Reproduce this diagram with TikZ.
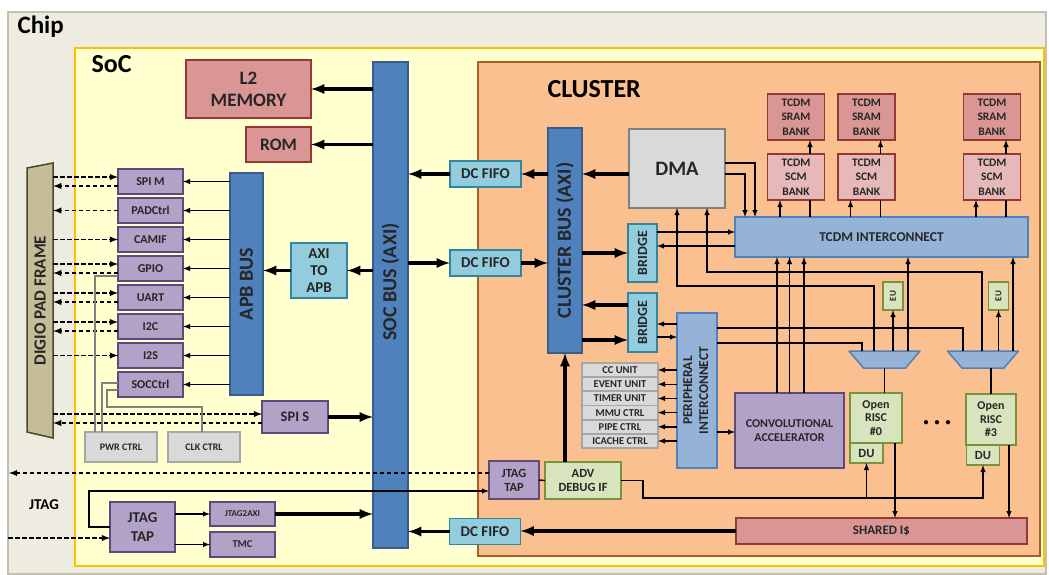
\documentclass[tikz,border=0pt]{standalone}
\usepackage{fontspec}
\setmainfont{Carlito}
\usetikzlibrary{arrows}

\definecolor{chipfill}{HTML}{EEECE1}
\definecolor{chipline}{HTML}{C4C0B0}
\definecolor{socfill}{HTML}{FFFFD0}
\definecolor{socline}{HTML}{FFC000}
\definecolor{clusterfill}{HTML}{FAC090}
\definecolor{clusterline}{HTML}{A5602A}
\definecolor{busfill}{HTML}{4F81BD}
\definecolor{busline}{HTML}{385D8A}
\definecolor{fifofill}{HTML}{93CDDD}
\definecolor{fifoline}{HTML}{31859C}
\definecolor{perfill}{HTML}{B3A2C7}
\definecolor{perline}{HTML}{5F497A}
\definecolor{memfill}{HTML}{D99694}
\definecolor{memline}{HTML}{953735}
\definecolor{scmfill}{HTML}{E6B9B8}
\definecolor{greyfill}{HTML}{D9D9D9}
\definecolor{greyline}{HTML}{A6A6A6}
\definecolor{corefill}{HTML}{D7E4BD}
\definecolor{coreline}{HTML}{77933C}
\definecolor{icfill}{HTML}{95B3D7}
\definecolor{icline}{HTML}{4F81BD}
\definecolor{padfill}{HTML}{C4BD97}
\definecolor{padline}{HTML}{4A452A}

\newcommand{\pxfont}[2]{\fontsize{#1}{#2}\selectfont\bfseries}

\begin{document}
\begin{tikzpicture}[x=1pt,y=-1pt,font=\bfseries,
	box_node/.style={rectangle,draw,line width=1.8pt,inner sep=0pt,outer sep=0pt,align=center,text=black!85},
	bus_node/.style={box_node,fill=busfill,draw=busline,line width=1.5pt},
	fifo_node/.style={box_node,fill=fifofill,draw=fifoline},
	per_node/.style={box_node,fill=perfill,draw=perline},
	per_small/.style={per_node,minimum width=65pt,minimum height=25pt,font=\pxfont{12}{14}},
	mem_node/.style={box_node,fill=memfill,draw=memline},
	bank_node/.style={box_node,draw=memline,minimum width=57pt,minimum height=46pt,font=\pxfont{11.5}{14.5}},
	grey_node/.style={box_node,fill=greyfill,draw=greyline},
	unit_node/.style={grey_node,minimum width=76pt,minimum height=14.2pt,font=\pxfont{10.5}{12}},
	core_node/.style={box_node,fill=corefill,draw=coreline},
	ic_node/.style={box_node,fill=icfill,draw=icline},
	mux_box/.style={rectangle,inner sep=0pt,outer sep=0pt,minimum width=71pt,minimum height=17pt},
	mux_shape/.style={draw=icline,fill=icfill,line width=1.5pt,line join=round},
	bus_text/.style={font=\pxfont{20}{22},text=black!85},
	thick_arrow/.style={-latex,line width=3.5pt},
	thin_arrow/.style={-latex,line width=1.4pt},
	thin_line/.style={line width=1.4pt},
	dash_arrow/.style={-latex,line width=1.8pt,dash pattern=on 4.5pt off 2.5pt},
	ctrl_line/.style={line width=1.1pt,draw=gray}]

	% frames
	\fill[white] (0,0) rectangle (1049,574);
	\useasboundingbox (0,0) rectangle (1049,574);
	\draw[fill=chipfill,draw=chipline,line width=1.5pt] (8,12) rectangle (1046,574);
	\draw[fill=socfill,draw=socline,line width=1.5pt] (75,48) rectangle (1044,566);
	\draw[fill=clusterfill,draw=clusterline,line width=1.2pt] (478,62) rectangle (1040,556);
	\node[anchor=base west,font=\pxfont{25}{27}] (chip_label) at (14,33) {Chip};
	\node[anchor=base west,font=\pxfont{26}{28}] (soc_label) at (88,72) {SoC};
	\node[anchor=base west,font=\pxfont{26}{28}] (cluster_label) at (544,97) {CLUSTER};

	% SoC side
	\node[mem_node,minimum width=125pt,minimum height=58pt,font=\pxfont{19}{22}] (l2) at (248.5,89) {L2\\MEMORY};
	\node[mem_node,minimum width=65pt,minimum height=35pt,font=\pxfont{17.5}{20}] (rom) at (278.5,144.5) {ROM};
	\node[bus_node,minimum width=35pt,minimum height=486pt] (socbus) at (390.5,305) {};
	\node[bus_text] (socbus_text) at (390.5,282) {\rotatebox{90}{SOC BUS (AXI)}};
	\node[bus_node,minimum width=33pt,minimum height=222pt,font=\pxfont{20}{22}] (apb) at (246.5,284) {\rotatebox{90}{APB BUS}};
	\node[fifo_node,minimum width=56pt,minimum height=55pt,font=\pxfont{15}{17}] (axi2apb) at (319,270.5) {AXI\\TO\\APB};

	\draw[fill=padfill,draw=padline,line width=1.5pt] (27,168) -- (53,163) -- (53,438) -- (27,432) -- cycle;
	\node[minimum width=26pt,minimum height=275pt,inner sep=0pt,font=\pxfont{17}{19},text=black!85] (pad) at (40,300.5) {\rotatebox{90}{DIGIO PAD FRAME}};

	\node[per_small] (spim) at (150.5,181.5) {SPI M};
	\node[per_small] (padctrl) at (150.5,210.5) {PADCtrl};
	\node[per_small] (camif) at (150.5,239.5) {CAMIF};
	\node[per_small] (gpio) at (150.5,268.5) {GPIO};
	\node[per_small] (uart) at (150.5,297.5) {UART};
	\node[per_small] (i2c) at (150.5,326.5) {I2C};
	\node[per_small] (i2s) at (150.5,355.5) {I2S};
	\node[per_small] (socctrl) at (150.5,384.5) {SOCCtrl};
	\node[per_node,minimum width=66pt,minimum height=32pt,font=\pxfont{14.5}{16}] (spis) at (295,417) {SPI S};
	\node[grey_node,minimum width=72pt,minimum height=30pt,font=\pxfont{10}{12}] (pwr) at (121,447) {PWR CTRL};
	\node[grey_node,minimum width=72pt,minimum height=30pt,font=\pxfont{10}{12}] (clk) at (204,447) {CLK CTRL};

	\node[font=\pxfont{15}{17}] (jtag_label) at (44,505) {JTAG};
	\node[per_node,minimum width=65pt,minimum height=50pt,font=\pxfont{15}{19}] (jtag_soc) at (142.5,527) {JTAG\\TAP};
	\node[per_node,minimum width=65pt,minimum height=24pt,font=\pxfont{9}{10}] (jtag2axi) at (242.5,514) {JTAG2AXI};
	\node[per_node,minimum width=65pt,minimum height=25pt,font=\pxfont{10.5}{12}] (tmc) at (242.5,544.5) {TMC};

	\node[fifo_node,minimum width=71pt,minimum height=26pt,font=\pxfont{15}{17}] (fifo_top) at (485.5,174) {DC FIFO};
	\node[fifo_node,minimum width=71pt,minimum height=26pt,font=\pxfont{15}{17}] (fifo_mid) at (485.5,263) {DC FIFO};
	\node[fifo_node,minimum width=71pt,minimum height=26pt,font=\pxfont{15}{17}] (fifo_bot) at (485,531.5) {DC FIFO};

	% cluster side
	\node[bus_node,minimum width=34pt,minimum height=225pt,font=\pxfont{20}{22}] (clbus) at (565,240.5) {\rotatebox{90}{CLUSTER BUS (AXI)}};
	\node[grey_node,minimum width=96pt,minimum height=79pt,draw=gray,font=\pxfont{20.5}{22}] (dma) at (677,168.5) {DMA};
	\node[fifo_node,minimum width=29pt,minimum height=58pt,font=\pxfont{14}{16}] (bridge1) at (642.5,253) {\rotatebox{90}{BRIDGE}};
	\node[fifo_node,minimum width=29pt,minimum height=59pt,font=\pxfont{14}{16}] (bridge2) at (642.5,322.5) {\rotatebox{90}{BRIDGE}};
	\node[ic_node,minimum width=293pt,minimum height=40pt,font=\pxfont{13.5}{15}] (tcdm) at (881.5,237) {TCDM INTERCONNECT};

	\node[bank_node,fill=memfill] (sram1) at (796,117) {TCDM\\SRAM\\BANK};
	\node[bank_node,fill=memfill] (sram2) at (866.5,117) {TCDM\\SRAM\\BANK};
	\node[bank_node,fill=memfill] (sram3) at (992,117) {TCDM\\SRAM\\BANK};
	\node[bank_node,fill=scmfill] (scm1) at (796,177) {TCDM\\SCM\\BANK};
	\node[bank_node,fill=scmfill] (scm2) at (866.5,177) {TCDM\\SCM\\BANK};
	\node[bank_node,fill=scmfill] (scm3) at (992,177) {TCDM\\SCM\\BANK};

	\node[ic_node,minimum width=40pt,minimum height=155pt,font=\pxfont{13.5}{16}] (periph) at (697,390.5) {\rotatebox{90}{\begin{tabular}{@{}c@{}}PERIPHERAL\\INTERCONNECT\end{tabular}}};
	\node[unit_node] (cc) at (620,370) {CC UNIT};
	\node[unit_node] (event) at (620,384.2) {EVENT UNIT};
	\node[unit_node] (timer) at (620,398.4) {TIMER UNIT};
	\node[unit_node] (mmu) at (620,412.6) {MMU CTRL};
	\node[unit_node] (pipe) at (620,426.8) {PIPE CTRL};
	\node[unit_node] (icache) at (620,441) {ICACHE CTRL};
	\node[per_node,minimum width=109pt,minimum height=75pt,font=\pxfont{12}{14}] (conv) at (789.5,430.5) {CONVOLUTIONAL\\ACCELERATOR};

	% core muxes: wide side up
	\node[mux_box] (mux1) at (884.5,359.5) {};
	\node[mux_box] (mux2) at (983,359.5) {};
	\draw[mux_shape] (mux1.north west) -- (mux1.north east) -- ([xshift=-14.5pt]mux1.south east) -- ([xshift=14.5pt]mux1.south west) -- cycle;
	\draw[mux_shape] (mux2.north west) -- (mux2.north east) -- ([xshift=-14.5pt]mux2.south east) -- ([xshift=14.5pt]mux2.south west) -- cycle;
	\node[core_node,minimum width=20pt,minimum height=28pt,font=\pxfont{9}{10}] (eu1) at (893,296) {\rotatebox{90}{EU}};
	\node[core_node,minimum width=20pt,minimum height=28pt,font=\pxfont{9}{10}] (eu2) at (998.5,296) {\rotatebox{90}{EU}};
	\node[core_node,minimum width=52pt,minimum height=50pt,font=\pxfont{12}{13.5}] (core0) at (876,418) {Open\\RISC\\\#0};
	\node[core_node,minimum width=50pt,minimum height=51pt,font=\pxfont{12}{13.5}] (core3) at (991,419.5) {Open\\RISC\\\#3};
	\node[core_node,minimum width=33pt,minimum height=20pt,font=\pxfont{12.5}{14}] (du0) at (866.5,453) {DU};
	\node[core_node,minimum width=33pt,minimum height=20pt,font=\pxfont{12.5}{14}] (du3) at (983,455) {DU};
	\node[font=\pxfont{10}{12}] (dots) at (937,423) {\textbullet\hspace{6pt}\textbullet\hspace{6pt}\textbullet};
	\node[mem_node,minimum width=291pt,minimum height=26pt,font=\pxfont{13}{15}] (shared) at (881.5,531) {SHARED I\$};

	\node[per_node,minimum width=50pt,minimum height=38pt,font=\pxfont{12.5}{14}] (jtag_cl) at (514,480) {JTAG\\TAP};
	\node[core_node,minimum width=76pt,minimum height=37pt,font=\pxfont{12.5}{14}] (adv) at (583,480.5) {ADV\\DEBUG IF};

	\coordinate (jtag_in) at (8,538);
	\coordinate (jtag_out) at (9,473);
	\coordinate (jtag_loop) at (89,491);
	\coordinate (clk_bend) at (107,407);
	\coordinate (dbg_bend) at (643,498);
	\coordinate (dma_link1) at (677,286);
	\coordinate (dma_link2) at (707,272);

	% SoC bus traffic
	\draw[thick_arrow] (socbus.west |- l2) -- (l2.east);
	\draw[thick_arrow] (socbus.west |- rom) -- (rom.east);
	\draw[thick_arrow] (socbus.west |- axi2apb) -- (axi2apb.east);
	\draw[thick_arrow] (axi2apb.west) -- (apb.east |- axi2apb);
	\draw[thick_arrow] (spis.east) -- (socbus.west |- spis);
	\draw[thick_arrow] (jtag2axi.east) -- (socbus.west |- jtag2axi);
	\draw[thick_arrow] (clbus.west |- fifo_top) -- (fifo_top.east);
	\draw[thick_arrow] (fifo_top.west) -- (socbus.east |- fifo_top);
	\draw[thick_arrow] (socbus.east |- fifo_mid) -- (fifo_mid.west);
	\draw[thick_arrow] (fifo_mid.east) -- (clbus.west |- fifo_mid);
	\draw[thick_arrow] (shared.west) -- (shared.west -| fifo_bot.east);
	\draw[thick_arrow] (fifo_bot.west) -- (fifo_bot.west -| socbus.east);

	% APB peripherals
	\draw[thin_arrow] (apb.west |- spim) -- (spim.east);
	\draw[thin_arrow] (apb.west |- padctrl) -- (padctrl.east);
	\draw[thin_arrow] (apb.west |- camif) -- (camif.east);
	\draw[thin_arrow] (apb.west |- gpio) -- (gpio.east);
	\draw[thin_arrow] (apb.west |- uart) -- (uart.east);
	\draw[thin_arrow] (apb.west |- i2c) -- (i2c.east);
	\draw[thin_arrow] (apb.west |- i2s) -- (i2s.east);
	\draw[thin_arrow] (apb.west |- socctrl) -- (socctrl.east);

	% pad frame links
	\draw[dash_arrow] ([yshift=4.5pt]spim.west -| pad.east) -- ([yshift=4.5pt]spim.west);
	\draw[dash_arrow] ([yshift=-4.5pt]spim.west) -- ([yshift=-4.5pt]spim.west -| pad.east);
	\draw[dash_arrow] (padctrl.west) -- (padctrl.west -| pad.east);
	\draw[dash_arrow] (camif.west -| pad.east) -- (camif.west);
	\draw[dash_arrow] ([yshift=4.5pt]gpio.west -| pad.east) -- ([yshift=4.5pt]gpio.west);
	\draw[dash_arrow] ([yshift=-4.5pt]gpio.west) -- ([yshift=-4.5pt]gpio.west -| pad.east);
	\draw[dash_arrow] ([yshift=4.5pt]uart.west -| pad.east) -- ([yshift=4.5pt]uart.west);
	\draw[dash_arrow] ([yshift=-4.5pt]uart.west) -- ([yshift=-4.5pt]uart.west -| pad.east);
	\draw[dash_arrow] ([yshift=4.5pt]i2c.west -| pad.east) -- ([yshift=4.5pt]i2c.west);
	\draw[dash_arrow] ([yshift=-4.5pt]i2c.west) -- ([yshift=-4.5pt]i2c.west -| pad.east);
	\draw[dash_arrow] (i2s.west -| pad.east) -- (i2s.west);
	\draw[dash_arrow] ([yshift=3pt]spis.west -| pad.east) -- ([yshift=3pt]spis.west);
	\draw[dash_arrow] ([yshift=-6pt]spis.west) -- ([yshift=-6pt]spis.west -| pad.east);

	% power and clock control
	\draw[ctrl_line] ([yshift=-7.5pt]gpio.west) -| ([xshift=-26pt]pwr.north);
	\draw[ctrl_line] ([yshift=1.5pt]socctrl.west) -| ([xshift=-19pt]pwr.north);
	\draw[ctrl_line] ([yshift=-5.5pt]socctrl.west) -| (clk_bend) -| ([xshift=-2pt]clk.north);

	% JTAG
	\draw[dash_arrow] (jtag_in) -- (jtag_in -| jtag_soc.west);
	\draw[thin_arrow] (jtag_soc.east |- jtag2axi) -- (jtag2axi.west);
	\draw[thin_arrow] (jtag_soc.east |- tmc) -- (tmc.west);
	\draw[thin_arrow] (jtag_soc.west) -| (jtag_loop) -- (jtag_loop -| jtag_cl.west);
	\draw[dash_arrow] (jtag_cl.west |- jtag_out) -- (jtag_out);
	\draw[thin_line] (jtag_cl.east) -- (adv.west);
	\draw[thick_arrow] (clbus.south |- adv.north) -- (clbus.south);
	\draw[thin_arrow] (adv.east) -| (dbg_bend) -| (du3.south);
	\draw[thin_arrow] (du0.south |- dbg_bend) -- (du0.south);

	% cluster bus and bridges
	\draw[thick_arrow] (dma.west |- fifo_top) -- (clbus.east |- fifo_top);
	\draw[thick_arrow] (clbus.east |- bridge1) -- (bridge1.west);
	\draw[thick_arrow] ([yshift=17.5pt]bridge2.west) -- ([yshift=17.5pt]bridge2.west -| clbus.east);
	\draw[thick_arrow] ([yshift=-17.5pt]bridge2.west -| clbus.east) -- ([yshift=-17.5pt]bridge2.west);
	\draw[thin_arrow] ([yshift=5pt]tcdm.west -| bridge1.east) -- ([yshift=5pt]tcdm.west);
	\draw[thin_arrow] ([yshift=-9pt]tcdm.west) -- ([yshift=-9pt]tcdm.west -| bridge1.east);
	\draw[thin_arrow] ([yshift=-1.5pt]bridge2.east -| periph.west) -- ([yshift=-1.5pt]bridge2.east);
	\draw[thin_arrow] ([yshift=-14.5pt]bridge2.east) -- ([yshift=-14.5pt]bridge2.east -| periph.west);

	% peripheral interconnect
	\draw[thin_arrow] (periph.west |- cc) -- (cc.east);
	\draw[thin_arrow] (periph.west |- event) -- (event.east);
	\draw[thin_arrow] (periph.west |- timer) -- (timer.east);
	\draw[thin_arrow] (periph.west |- mmu) -- (mmu.east);
	\draw[thin_arrow] (periph.west |- pipe) -- (pipe.east);
	\draw[thin_arrow] (periph.west |- icache) -- (icache.east);
	\draw[thin_arrow] ([yshift=-1.5pt]conv.west -| periph.east) -- ([yshift=-1.5pt]conv.west);
	\draw[thin_line] ([yshift=62.5pt]periph.east) -| ([xshift=-20pt]mux2.north);
	\draw[thin_line] ([yshift=47.5pt]periph.east) -| ([xshift=-22.5pt]mux1.north);

	% DMA and TCDM
	\draw[thin_arrow] ([yshift=5.5pt]dma.east) -| ([xshift=-126.5pt]tcdm.north);
	\draw[thin_arrow] ([yshift=-5.5pt]dma.east) -| ([xshift=-136.5pt]tcdm.north);
	\draw[thin_arrow] ([xshift=-10.5pt]mux1.north) |- (dma_link1) -- (dma_link1 |- dma.south);
	\draw[thin_arrow] ([xshift=-1pt]mux2.north) |- (dma_link2) -- (dma_link2 |- dma.south);
	\draw[thin_arrow] ([xshift=-16pt]scm1.south |- tcdm.north) -- ([xshift=-16pt]scm1.south);
	\draw[thin_line] ([xshift=14pt]scm1.south) -- ([xshift=14pt]scm1.south |- tcdm.north);
	\draw[thin_arrow] ([xshift=14pt]scm1.north) -- ([xshift=14pt]sram1.south);
	\draw[thin_arrow] ([xshift=-16pt]scm2.south |- tcdm.north) -- ([xshift=-16pt]scm2.south);
	\draw[thin_line] ([xshift=14pt]scm2.south) -- ([xshift=14pt]scm2.south |- tcdm.north);
	\draw[thin_arrow] ([xshift=14pt]scm2.north) -- ([xshift=14pt]sram2.south);
	\draw[thin_arrow] ([xshift=-16pt]scm3.south |- tcdm.north) -- ([xshift=-16pt]scm3.south);
	\draw[thin_line] ([xshift=14pt]scm3.south) -- ([xshift=14pt]scm3.south |- tcdm.north);
	\draw[thin_arrow] ([xshift=14pt]scm3.north) -- ([xshift=14pt]sram3.south);
	\draw[thin_arrow] ([xshift=-12.5pt]conv.north) -- ([xshift=-12.5pt]conv.north |- tcdm.south);
	\draw[thin_arrow] (conv.north) -- (conv.north |- tcdm.south);
	\draw[thin_arrow] ([xshift=14.5pt]conv.north) -- ([xshift=14.5pt]conv.north |- tcdm.south);

	% cores
	\draw[thin_arrow] ([xshift=23.5pt]mux1.north) -- ([xshift=23.5pt]mux1.north |- tcdm.south);
	\draw[thin_arrow] (eu1.south |- mux1.north) -- (eu1.south);
	\draw[thin_arrow] ([xshift=30pt]mux2.north) -- ([xshift=30pt]mux2.north |- tcdm.south);
	\draw[thin_arrow] (eu2.south |- mux2.north) -- (eu2.south);
	\draw[thin_line] (mux1.south) -- (mux1.south |- core0.north);
	\draw[thin_line] (core3.north |- mux2.south) -- (core3.north);
	\draw[thin_arrow] ([xshift=19pt]core0.south) -- ([xshift=19pt]core0.south |- shared.north);
	\draw[thin_arrow] ([xshift=18pt]core3.south) -- ([xshift=18pt]core3.south |- shared.north);
\end{tikzpicture}
\end{document}
